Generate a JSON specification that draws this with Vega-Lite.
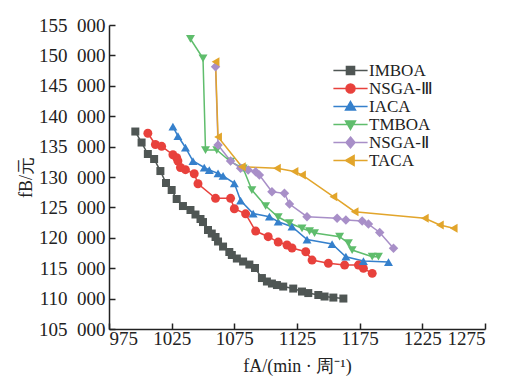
{
  "$schema": "https://vega.github.io/schema/vega-lite/v6.json",
  "width": 376,
  "height": 304,
  "autosize": {"type": "none"},
  "padding": {"left": 109, "top": 25, "right": 22, "bottom": 50},
  "background": "white",
  "config": {
    "view": {"stroke": null},
    "font": "Liberation Serif",
    "axis": {
      "grid": false,
      "domainColor": "#222222",
      "domainWidth": 1.5,
      "tickColor": "#222222",
      "tickWidth": 1.5,
      "tickSize": -6,
      "labelFont": "Liberation Serif",
      "labelFontSize": 19,
      "labelColor": "#222222",
      "titleFont": "Liberation Serif",
      "titleFontSize": 18,
      "titleFontWeight": "normal",
      "titleColor": "#222222"
    },
    "legend": {
      "labelFont": "Liberation Serif",
      "labelFontSize": 17,
      "labelColor": "#222222"
    }
  },
  "data": {
    "values": [
      {"a": "IMBOA", "x": 996, "y": 137480},
      {"a": "IMBOA", "x": 1001, "y": 135670},
      {"a": "IMBOA", "x": 1006, "y": 133780},
      {"a": "IMBOA", "x": 1011, "y": 132960},
      {"a": "IMBOA", "x": 1016, "y": 130980},
      {"a": "IMBOA", "x": 1020.5, "y": 129010},
      {"a": "IMBOA", "x": 1025, "y": 127860},
      {"a": "IMBOA", "x": 1029, "y": 126380},
      {"a": "IMBOA", "x": 1034, "y": 125225},
      {"a": "IMBOA", "x": 1040, "y": 124570},
      {"a": "IMBOA", "x": 1044, "y": 123830},
      {"a": "IMBOA", "x": 1048, "y": 123090},
      {"a": "IMBOA", "x": 1050, "y": 122590},
      {"a": "IMBOA", "x": 1054, "y": 121280},
      {"a": "IMBOA", "x": 1057, "y": 120700},
      {"a": "IMBOA", "x": 1060, "y": 120130},
      {"a": "IMBOA", "x": 1062, "y": 119390},
      {"a": "IMBOA", "x": 1066, "y": 118560},
      {"a": "IMBOA", "x": 1071, "y": 117660},
      {"a": "IMBOA", "x": 1073, "y": 117170},
      {"a": "IMBOA", "x": 1077, "y": 116590},
      {"a": "IMBOA", "x": 1082, "y": 116100},
      {"a": "IMBOA", "x": 1087, "y": 115600},
      {"a": "IMBOA", "x": 1091.5, "y": 115030},
      {"a": "IMBOA", "x": 1097, "y": 113380},
      {"a": "IMBOA", "x": 1101, "y": 112810},
      {"a": "IMBOA", "x": 1105, "y": 112480},
      {"a": "IMBOA", "x": 1109, "y": 112230},
      {"a": "IMBOA", "x": 1114, "y": 111980},
      {"a": "IMBOA", "x": 1122, "y": 111650},
      {"a": "IMBOA", "x": 1129, "y": 111160},
      {"a": "IMBOA", "x": 1134, "y": 110910},
      {"a": "IMBOA", "x": 1142, "y": 110590},
      {"a": "IMBOA", "x": 1147, "y": 110340},
      {"a": "IMBOA", "x": 1154, "y": 110170},
      {"a": "IMBOA", "x": 1162, "y": 110010},
      {"a": "NSGA-Ⅲ", "x": 1006, "y": 137190},
      {"a": "NSGA-Ⅲ", "x": 1012, "y": 135340},
      {"a": "NSGA-Ⅲ", "x": 1017, "y": 135050},
      {"a": "NSGA-Ⅲ", "x": 1026, "y": 133660},
      {"a": "NSGA-Ⅲ", "x": 1029, "y": 133170},
      {"a": "NSGA-Ⅲ", "x": 1030, "y": 132630},
      {"a": "NSGA-Ⅲ", "x": 1032, "y": 131560},
      {"a": "NSGA-Ⅲ", "x": 1036, "y": 131200},
      {"a": "NSGA-Ⅲ", "x": 1043, "y": 130540},
      {"a": "NSGA-Ⅲ", "x": 1046, "y": 128890},
      {"a": "NSGA-Ⅲ", "x": 1060, "y": 126490},
      {"a": "NSGA-Ⅲ", "x": 1072, "y": 126490},
      {"a": "NSGA-Ⅲ", "x": 1075, "y": 124780},
      {"a": "NSGA-Ⅲ", "x": 1084, "y": 123940},
      {"a": "NSGA-Ⅲ", "x": 1092, "y": 121110},
      {"a": "NSGA-Ⅲ", "x": 1102, "y": 120180},
      {"a": "NSGA-Ⅲ", "x": 1110, "y": 119300},
      {"a": "NSGA-Ⅲ", "x": 1117, "y": 118810},
      {"a": "NSGA-Ⅲ", "x": 1121, "y": 118320},
      {"a": "NSGA-Ⅲ", "x": 1132, "y": 117710},
      {"a": "NSGA-Ⅲ", "x": 1137, "y": 116340},
      {"a": "NSGA-Ⅲ", "x": 1150, "y": 115800},
      {"a": "NSGA-Ⅲ", "x": 1163, "y": 115520},
      {"a": "NSGA-Ⅲ", "x": 1174, "y": 115520},
      {"a": "NSGA-Ⅲ", "x": 1178, "y": 114980},
      {"a": "NSGA-Ⅲ", "x": 1185, "y": 114150},
      {"a": "IACA", "x": 1026, "y": 138270},
      {"a": "IACA", "x": 1030, "y": 136740},
      {"a": "IACA", "x": 1036, "y": 134850},
      {"a": "IACA", "x": 1042, "y": 132630},
      {"a": "IACA", "x": 1051, "y": 131560},
      {"a": "IACA", "x": 1055, "y": 131150},
      {"a": "IACA", "x": 1062, "y": 130600},
      {"a": "IACA", "x": 1066, "y": 130190},
      {"a": "IACA", "x": 1075, "y": 128960},
      {"a": "IACA", "x": 1080, "y": 126130},
      {"a": "IACA", "x": 1090, "y": 123990},
      {"a": "IACA", "x": 1103, "y": 123470},
      {"a": "IACA", "x": 1110, "y": 122640},
      {"a": "IACA", "x": 1121, "y": 121820},
      {"a": "IACA", "x": 1133, "y": 119710},
      {"a": "IACA", "x": 1153, "y": 118970},
      {"a": "IACA", "x": 1164, "y": 116890},
      {"a": "IACA", "x": 1178, "y": 116180},
      {"a": "IACA", "x": 1198, "y": 116010},
      {"a": "TMBOA", "x": 1040, "y": 152700},
      {"a": "TMBOA", "x": 1050, "y": 149520},
      {"a": "TMBOA", "x": 1052, "y": 134440},
      {"a": "TMBOA", "x": 1061, "y": 134440},
      {"a": "TMBOA", "x": 1072, "y": 132510},
      {"a": "TMBOA", "x": 1082, "y": 131430},
      {"a": "TMBOA", "x": 1089, "y": 127860},
      {"a": "TMBOA", "x": 1100, "y": 125230},
      {"a": "TMBOA", "x": 1110, "y": 123420},
      {"a": "TMBOA", "x": 1119, "y": 122430},
      {"a": "TMBOA", "x": 1129, "y": 121560},
      {"a": "TMBOA", "x": 1135, "y": 121110},
      {"a": "TMBOA", "x": 1139, "y": 120780},
      {"a": "TMBOA", "x": 1159, "y": 120180},
      {"a": "TMBOA", "x": 1166, "y": 119140},
      {"a": "TMBOA", "x": 1169, "y": 117990},
      {"a": "TMBOA", "x": 1185, "y": 116890},
      {"a": "TMBOA", "x": 1190, "y": 116890},
      {"a": "NSGA-Ⅱ", "x": 1060, "y": 148140},
      {"a": "NSGA-Ⅱ", "x": 1062, "y": 135260},
      {"a": "NSGA-Ⅱ", "x": 1072, "y": 132630},
      {"a": "NSGA-Ⅱ", "x": 1080, "y": 131430},
      {"a": "NSGA-Ⅱ", "x": 1086, "y": 131150},
      {"a": "NSGA-Ⅱ", "x": 1092, "y": 130870},
      {"a": "NSGA-Ⅱ", "x": 1095, "y": 130330},
      {"a": "NSGA-Ⅱ", "x": 1105, "y": 127580},
      {"a": "NSGA-Ⅱ", "x": 1115, "y": 127310},
      {"a": "NSGA-Ⅱ", "x": 1119, "y": 125550},
      {"a": "NSGA-Ⅱ", "x": 1133, "y": 123470},
      {"a": "NSGA-Ⅱ", "x": 1157, "y": 123200},
      {"a": "NSGA-Ⅱ", "x": 1164, "y": 122920},
      {"a": "NSGA-Ⅱ", "x": 1177, "y": 122760},
      {"a": "NSGA-Ⅱ", "x": 1182, "y": 122260},
      {"a": "NSGA-Ⅱ", "x": 1191, "y": 120870},
      {"a": "NSGA-Ⅱ", "x": 1202, "y": 118270},
      {"a": "TACA", "x": 1060, "y": 148960},
      {"a": "TACA", "x": 1062, "y": 136580},
      {"a": "TACA", "x": 1081, "y": 131690},
      {"a": "TACA", "x": 1109, "y": 131430},
      {"a": "TACA", "x": 1123, "y": 130900},
      {"a": "TACA", "x": 1129, "y": 130330},
      {"a": "TACA", "x": 1154, "y": 126760},
      {"a": "TACA", "x": 1171, "y": 124290},
      {"a": "TACA", "x": 1227, "y": 123200},
      {"a": "TACA", "x": 1239, "y": 122100},
      {"a": "TACA", "x": 1250, "y": 121560}
    ]
  },
  "encoding": {
    "x": {
      "field": "x",
      "type": "quantitative",
      "scale": {"domain": [975, 1275], "nice": false, "zero": false},
      "axis": {
        "values": [975, 1025, 1075, 1125, 1175, 1225, 1275],
        "format": "d",
        "labelPadding": 6,
        "title": "fA/(min · 周⁻¹)",
        "titlePadding": 9
      }
    },
    "y": {
      "field": "y",
      "type": "quantitative",
      "scale": {"domain": [105000, 155000], "nice": false, "zero": false},
      "axis": {
        "values": [105000, 110000, 115000, 120000, 125000, 130000, 135000, 140000, 145000, 150000, 155000],
        "labelExpr": "floor(datum.value / 1000) + '\\u2002' + '000'",
        "labelPadding": 10,
        "title": "fB/元",
        "titlePadding": 3
      }
    },
    "color": {
      "field": "a",
      "type": "nominal",
      "scale": {
        "domain": ["IMBOA", "NSGA-Ⅲ", "IACA", "TMBOA", "NSGA-Ⅱ", "TACA"],
        "range": ["#4f5654", "#e8413c", "#3580cc", "#5fbd6c", "#a88fc8", "#e2a52b"]
      },
      "legend": {
        "title": null,
        "orient": "none",
        "legendX": 233,
        "legendY": 37,
        "padding": 0,
        "symbolSize": 81,
        "labelOffset": 10,
        "rowPadding": 0,
        "encode": {
          "symbols": {
            "update": {
              "shape": {"signal": "datum.value === 'IMBOA' ? 'M-3.8,0H3.8M-0.9,-0.9H0.9V0.9H-0.9Z' : datum.value === 'NSGA-Ⅲ' ? 'M-3.8,0H3.8M1,0A1,1,0,1,1,-1,0A1,1,0,1,1,1,0Z' : datum.value === 'IACA' ? 'M-3.8,0H3.8M0,-1.1L1.1,0.8H-1.1Z' : datum.value === 'TMBOA' ? 'M-3.8,0H3.8M0,1.1L1.1,-0.8H-1.1Z' : datum.value === 'NSGA-Ⅱ' ? 'M-3.8,0H3.8M0,-1.2L1,0L0,1.2L-1,0Z' : 'M-3.8,0H3.8M-1.1,0L0.8,-1.1V1.1Z'"},
              "fill": {"signal": "scale('color', datum.value)"},
              "stroke": {"signal": "scale('color', datum.value)"},
              "strokeWidth": {"value": 1.5},
              "opacity": {"value": 1}
            }
          }
        }
      }
    }
  },
  "layer": [
    {"mark": {"type": "line", "strokeWidth": 1.5}},
    {"transform": [{"filter": "datum.a === 'IMBOA'"}], "mark": {"type": "point", "shape": "square", "filled": true, "opacity": 1, "size": 64}},
    {"transform": [{"filter": "datum.a === 'NSGA-Ⅲ'"}], "mark": {"type": "point", "shape": "circle", "filled": true, "opacity": 1, "size": 80}},
    {"transform": [{"filter": "datum.a === 'IACA'"}], "mark": {"type": "point", "shape": "triangle-up", "filled": true, "opacity": 1, "size": 80}},
    {"transform": [{"filter": "datum.a === 'TMBOA'"}], "mark": {"type": "point", "shape": "triangle-down", "filled": true, "opacity": 1, "size": 80}},
    {"transform": [{"filter": "datum.a === 'NSGA-Ⅱ'"}], "mark": {"type": "point", "shape": "diamond", "filled": true, "opacity": 1, "size": 90}},
    {"transform": [{"filter": "datum.a === 'TACA'"}], "mark": {"type": "point", "shape": "triangle-left", "filled": true, "opacity": 1, "size": 80}}
  ]
}
